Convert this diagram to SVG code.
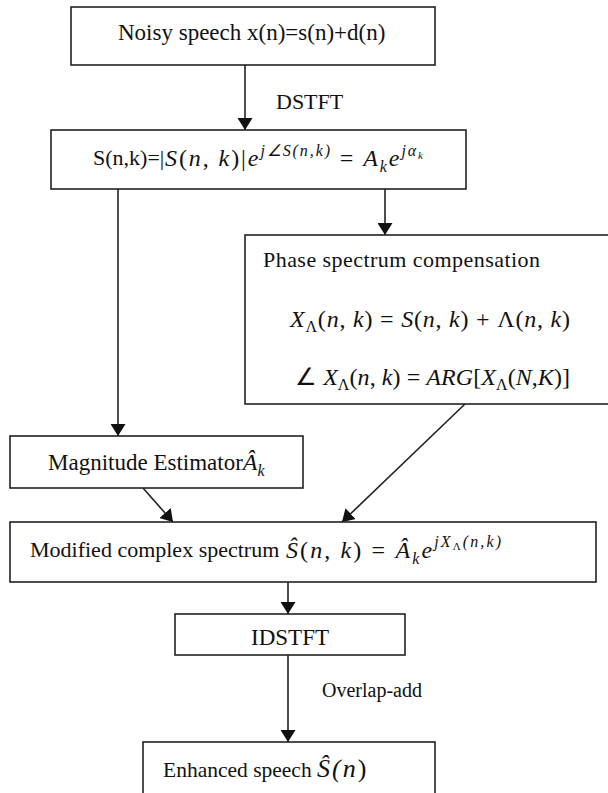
<svg xmlns="http://www.w3.org/2000/svg" width="608" height="793" viewBox="0 0 608 793">
<style>
.box{fill:#fff;stroke:#222;stroke-width:1.6}
.t{font-family:"Liberation Serif","Times New Roman",serif;font-size:22px;fill:#111}
.m{font-size:24px}
.i{font-style:italic}
.sup{font-size:16px;font-style:italic}
.c{stroke:#222;stroke-width:1.6;fill:none}
</style>
<defs>
<marker id="ah" viewBox="0 0 12 15" refX="12" refY="7.5" markerWidth="12" markerHeight="15" markerUnits="userSpaceOnUse" orient="auto">
<path d="M0,0 L12,7.5 L0,15 Z" fill="#111"/>
</marker>
</defs>
<rect width="608" height="793" fill="#fff"/>
<g id="connectors">
<line class="c" x1="245" y1="65" x2="245" y2="130" marker-end="url(#ah)"/>
<text class="t" x="276" y="109">DSTFT</text>
<line class="c" x1="118" y1="189" x2="118" y2="436" marker-end="url(#ah)"/>
<line class="c" x1="385" y1="189" x2="385" y2="235" marker-end="url(#ah)"/>
<line class="c" x1="143" y1="488" x2="173" y2="522" marker-end="url(#ah)"/>
<line class="c" x1="465" y1="404" x2="342" y2="522" marker-end="url(#ah)"/>
<line class="c" x1="288" y1="582" x2="288" y2="614" marker-end="url(#ah)"/>
<line class="c" x1="288" y1="655" x2="288" y2="742" marker-end="url(#ah)"/>
<text class="t" x="322" y="697" style="font-size:20px">Overlap-add</text>
</g>
<g id="noisy">
<rect class="box" x="71" y="7" width="364" height="58"/>
<text class="t" x="118" y="40" style="font-size:23px">Noisy speech x(n)=s(n)+d(n)</text>
</g>
<g id="stft">
<rect class="box" x="51" y="130" width="415" height="59"/>
<text class="t" x="93" y="165">S(n,k)=|</text>
<text class="t m" x="165" y="166" textLength="258" lengthAdjust="spacing"><tspan class="i">S</tspan>(<tspan class="i">n</tspan>, <tspan class="i">k</tspan>)|<tspan class="i">e</tspan><tspan class="sup" dy="-10">j∠S(n,k)</tspan><tspan dy="10"> = </tspan><tspan class="i">A</tspan><tspan class="sup" dy="6">k</tspan><tspan class="i" dy="-6">e</tspan><tspan class="sup" dy="-10">jα</tspan><tspan class="sup" style="font-size:11px" dy="3">k</tspan></text>
</g>
<g id="phase">
<rect class="box" x="245" y="235" width="375" height="169"/>
<text class="t" x="263" y="267" textLength="277" lengthAdjust="spacing">Phase spectrum  compensation</text>
<text class="t m" x="290" y="327" textLength="280" lengthAdjust="spacing"><tspan class="i">X</tspan><tspan class="sup" style="font-style:normal" dy="5">Λ</tspan><tspan dy="-5">(</tspan><tspan class="i">n</tspan>, <tspan class="i">k</tspan>) = <tspan class="i">S</tspan>(<tspan class="i">n</tspan>, <tspan class="i">k</tspan>) + Λ(<tspan class="i">n</tspan>, <tspan class="i">k</tspan>)</text>
<text class="t m" x="295" y="385" textLength="275" lengthAdjust="spacing">∠ <tspan class="i">X</tspan><tspan class="sup" style="font-style:normal" dy="5">Λ</tspan><tspan dy="-5">(</tspan><tspan class="i">n</tspan>, <tspan class="i">k</tspan>) = <tspan class="i">ARG</tspan>[<tspan class="i">X</tspan><tspan class="sup" style="font-style:normal" dy="5">Λ</tspan><tspan dy="-5">(</tspan><tspan class="i">N</tspan>,<tspan class="i">K</tspan>)]</text>
</g>
<g id="magnitude">
<rect class="box" x="10" y="436" width="293" height="52"/>
<text class="t" x="48" y="470" style="font-size:23px">Magnitude Estimator<tspan class="i" style="font-size:24px">Â</tspan><tspan class="sup" dy="6">k</tspan></text>
</g>
<g id="modified">
<rect class="box" x="10" y="522" width="586" height="60"/>
<text class="t" x="30" y="557">Modified complex spectrum</text>
<text class="t m" x="286" y="558" textLength="215" lengthAdjust="spacing"><tspan class="i">Ŝ</tspan>(<tspan class="i">n</tspan>, <tspan class="i">k</tspan>) = <tspan class="i">Â</tspan><tspan class="sup" dy="6">k</tspan><tspan class="i" dy="-6">e</tspan><tspan class="sup" dy="-11">jX</tspan><tspan style="font-size:11px" dy="3">Λ</tspan><tspan class="sup" dy="-3">(n,k)</tspan></text>
</g>
<g id="idstft">
<rect class="box" x="175" y="614" width="230" height="41"/>
<text class="t" x="290" y="645" text-anchor="middle" style="font-size:23px">IDSTFT</text>
</g>
<g id="enhanced">
<rect class="box" x="143" y="742" width="292" height="60"/>
<text class="t" x="163" y="777" style="font-size:21.5px">Enhanced speech <tspan class="i" style="font-size:26px;letter-spacing:2px">Ŝ(</tspan><tspan class="i" style="font-size:26px;letter-spacing:2px">n</tspan><tspan style="font-size:26px">)</tspan></text>
</g>
</svg>
